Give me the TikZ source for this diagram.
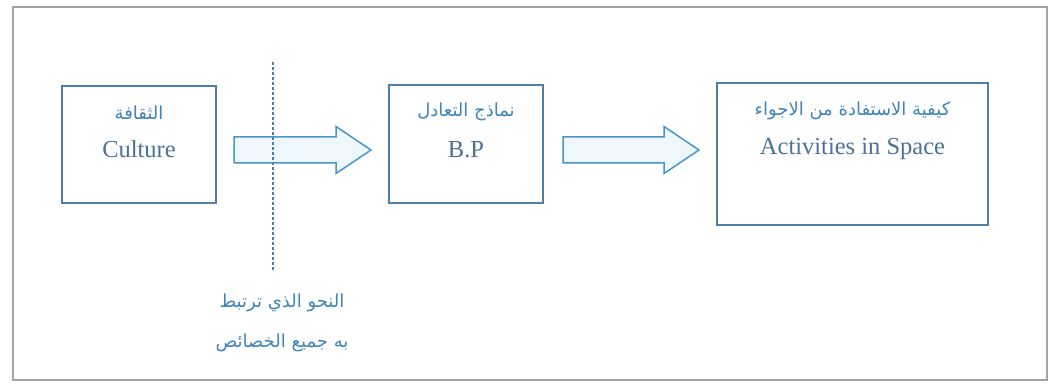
\documentclass[tikz,border=0pt]{standalone}
\usepackage{fontspec}
\setmainfont{Liberation Serif}
\newfontfamily\arabicfont[Script=Arabic]{DejaVu Sans}
\TeXXeTstate=1
\usetikzlibrary{positioning, calc}
\definecolor{cbox}{HTML}{4F7EA6}
\definecolor{carrow}{HTML}{4A94CC}
\definecolor{cfill}{HTML}{EEF8FC}
\definecolor{ctext}{HTML}{4C7196}
\definecolor{carabic}{HTML}{3F83BD}
\definecolor{cframe}{HTML}{A3A3A3}
\tikzset{
  every picture/.style={line width=1.4pt},
  box/.style={draw=cbox, fill=white, minimum width=#1, inner sep=0pt},
  blockarrow/.style={draw=carrow, fill=cfill, line width=1.5pt, line join=miter},
  cutline/.style={draw=cbox, line width=1.3pt, dash pattern=on 3pt off 2pt},
  entext/.style={font=\fontsize{24.5}{28}\selectfont, text=ctext},
  artext/.style={font=\arabicfont\fontsize{18}{22}\selectfont, text=carabic},
  note/.style={font=\arabicfont\fontsize{18}{40}\selectfont, text=carabic, align=center},
}
\begin{document}
\begin{tikzpicture}[x=1pt, y=1pt]
  \useasboundingbox (0,0) rectangle (1051,-390);
  \draw[cframe, line width=1.2pt] (13,-7) rectangle (1047,-380);
  % \fatarrow{start}{tip}
  \newcommand{\fatarrow}[2]{
    \draw[blockarrow] ($(#1)+(0,13)$) -- ($(#2)+(-35,13)$) -- ($(#2)+(-35,23.5)$) -- (#2)
      -- ($(#2)+(-35,-23.5)$) -- ($(#2)+(-35,-13)$) -- ($(#1)+(0,-13)$) -- cycle;}
  \node[box=154pt, minimum height=117pt] (culture) at (139,-144.5) {};
  \node[box=154pt, minimum height=118pt] (bp) at (466,-144) {};
  \node[box=271pt, minimum height=142pt] (space) at (852.5,-154) {};
  \node[artext] (culturear) at ($(culture.north)+(0,-27)$) {\beginR الثقافة\endR};
  \node[entext] (cultureen) at ($(culture.north)+(0,-64)$) {Culture};
  \node[artext] (bpar) at ($(bp.north)+(0,-28)$) {\beginR نماذج التعادل\endR};
  \node[entext] (bpen) at ($(bp.north)+(0,-65)$) {B.P};
  \node[artext] (spacear) at ($(space.north)+(0,-29)$) {\beginR كيفية الاستفادة من الاجواء\endR};
  \node[entext] (spaceen) at ($(space.north)+(0,-67)$) {Activities in Space};
  \coordinate (a1s) at (234,-150);
  \coordinate (a1e) at (371,-150);
  \coordinate (a2s) at (563,-150);
  \coordinate (a2e) at (699,-150);
  \fatarrow{a1s}{a1e}
  \fatarrow{a2s}{a2e}
  \coordinate (cuttop) at (273,-62);
  \coordinate (cutbot) at (273,-270);
  \draw[cutline] (cuttop) -- (cutbot);
  \node[note] (bond) at (282,-323) {\beginR النحو الذي ترتبط\endR\\ \beginR به جميع الخصائص\endR};
\end{tikzpicture}
\end{document}
